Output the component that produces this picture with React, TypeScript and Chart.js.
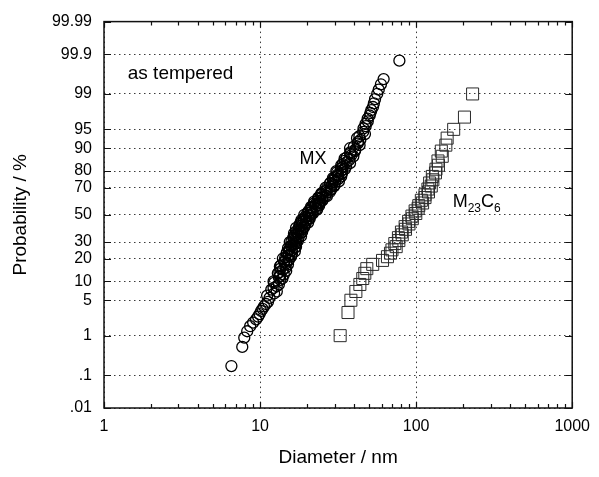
import React, { useEffect, useRef } from 'react';
import { Chart, registerables } from 'chart.js';

Chart.register(...registerables);

// ---- data (diameter in nm, cumulative probability in %) ----
const mxDiameter = [
  6.55, 7.69, 7.92, 8.27, 8.64, 9.03, 9.43, 9.71, 9.93, 10.15, 10.37, 10.6, 10.91, 11.24,
  11.5, 12.3, 11.8, 12.8, 12.3, 13.5, 13.2, 14.2, 13.3, 14.0, 14.6, 13.6, 14.7, 14.3, 15.3,
  14.5, 15.3, 16.0, 14.9, 16.0, 15.5, 16.8, 15.7, 16.5, 17.1, 15.9, 17.1, 16.5, 17.7, 16.7,
  17.5, 18.2, 17.0, 18.2, 17.7, 19.1, 17.8, 18.8, 19.6, 18.3, 19.7, 19.1, 20.6, 19.4, 20.5,
  21.4, 20.1, 21.6, 21.1, 22.9, 21.4, 22.7, 23.6, 22.1, 23.9, 23.3, 25.1, 23.7, 25.1, 26.3,
  24.7, 26.7, 26.2, 28.5, 26.8, 28.5, 29.8, 28.0, 30.2, 29.5, 31.8, 30.1, 31.8, 33.3, 31.2,
  33.6, 32.9, 35.6, 33.8, 35.9, 37.3, 35.9, 38.5, 37.8, 40.7, 39.9, 42.3, 43.9, 43.3, 45.8,
  46.0, 47.5, 47.4, 49.0, 48.9, 50.4, 50.9, 51.6, 52.9, 53.6, 54.5, 56.3, 57.6, 59.5, 61.9, 78.1,
  11.1, 12.8, 12.2, 13.2, 12.2, 13.9, 13.4, 13.0, 14.7, 13.5, 13.4, 15.1, 14.3, 15.2, 14.0,
  15.8, 15.3, 14.8, 16.7, 15.3, 15.1, 17.0, 16.1, 17.0, 15.5, 17.5, 16.8, 16.3, 18.3, 16.7,
  16.5, 18.6, 17.6, 18.6, 17.0, 19.2, 18.5, 18.0, 20.3, 18.6, 18.4, 20.8, 19.7, 21.0, 19.2,
  21.8, 21.1, 20.5, 23.2, 21.3, 21.2, 23.9, 22.7, 24.2, 22.2, 25.1, 24.3, 23.6, 26.8, 24.7,
  24.7, 28.0, 26.7, 28.5, 26.3, 29.9, 29.0, 28.2, 32.0, 29.4, 29.3, 33.1, 31.4, 33.5, 30.8,
  34.9, 33.9, 33.1, 37.7, 34.8, 34.8, 39.6, 37.8, 40.6, 37.7, 43.4, 42.5, 41.8, 47.0,
];
const mxProbability = [
  0.18, 0.55, 0.9, 1.25, 1.6, 1.9, 2.2, 2.5, 2.8, 3.2, 3.5, 3.9, 4.3, 4.7,
  5.5, 6.5, 7.5, 8.5, 9.5, 10.5, 11.5, 12.5, 13.5, 14.5, 15.5, 16.5, 17.5, 18.5, 19.5,
  20.5, 21.5, 22.5, 23.5, 24.5, 25.5, 26.5, 27.5, 28.5, 29.5, 30.5, 31.5, 32.5, 33.5, 34.5,
  35.5, 36.5, 37.5, 38.5, 39.5, 40.5, 41.5, 42.5, 43.5, 44.5, 45.5, 46.5, 47.5, 48.5, 49.5,
  50.5, 51.5, 52.5, 53.5, 54.5, 55.5, 56.5, 57.5, 58.5, 59.5, 60.5, 61.5, 62.5, 63.5, 64.5,
  65.5, 66.5, 67.5, 68.5, 69.5, 70.5, 71.5, 72.5, 73.5, 74.5, 75.5, 76.5, 77.5, 78.5, 79.5,
  80.5, 81.5, 82.5, 83.5, 84.5, 85.5, 86.5, 87.5, 88.5, 89.5, 90.5, 91.5, 92.5, 93.5, 94.5,
  95.2, 95.6, 96.0, 96.4, 96.8, 97.2, 97.5, 97.8, 98.1, 98.4, 98.7, 99.0, 99.2, 99.4, 99.55, 99.85,
  6, 7, 8, 9, 10, 11, 12, 13, 14, 15, 16, 17, 18, 19, 20,
  21, 22, 23, 24, 25, 26, 27, 28, 29, 30, 31, 32, 33, 34, 35,
  36, 37, 38, 39, 40, 41, 42, 43, 44, 45, 46, 47, 48, 49, 50,
  51, 52, 53, 54, 55, 56, 57, 58, 59, 60, 61, 62, 63, 64, 65,
  66, 67, 68, 69, 70, 71, 72, 73, 74, 75, 76, 77, 78, 79, 80,
  81, 82, 83, 84, 85, 86, 87, 88, 89, 90, 91, 92, 93, 94,
];

const m23Diameter = [
  32.6, 36.6, 38.2, 41.1, 43.6, 45.5, 46.9, 48.3, 52.7, 60.9,
  65.5, 68.5, 70.0, 74.5, 73.0, 77.5, 77.0, 81.5, 80.5, 85.5,
  85.0, 90.0, 89.5, 94.5, 94.0, 99.5, 98.5, 103, 104, 110,
  108, 114, 114, 120, 119, 125, 122, 128, 127, 133,
  134, 139, 138, 147, 145, 155, 158, 174, 204, 230,
];
const m23Probability = [
  1, 3, 5, 7, 9, 11, 13, 15, 17, 19,
  21, 23, 25, 27, 29, 31, 33, 35, 37, 39,
  41, 43, 45, 47, 49, 51, 53, 55, 57, 59,
  61, 63, 65, 67, 69, 71, 73, 75, 77, 79,
  81, 83, 85, 87, 89, 91, 93, 95, 97, 99,
];

const xTickValues = [1, 10, 100, 1000];
const xTickLabels = ['1', '10', '100', '1000'];
const xMinorBases = [1, 10, 100];
const xMinorMultipliers = [2, 3, 4, 5, 6, 7, 8, 9];
const yTickValues = [0.01, 0.1, 1, 5, 10, 20, 30, 50, 70, 80, 90, 95, 99, 99.9, 99.99];
const yTickLabels = ['.01', '.1', '1', '5', '10', '20', '30', '50', '70', '80', '90', '95', '99', '99.9', '99.99'];

const FONT = "'Liberation Sans', Arial, Helvetica, sans-serif";

// inverse of the standard normal CDF (probability paper transform), input in %
function probit(pPercent: number): number {
  const p = pPercent / 100;
  const a = [-3.969683028665376e1, 2.209460984245205e2, -2.759285104469687e2, 1.38357751867269e2, -3.066479806614716e1, 2.506628277459239];
  const b = [-5.447609879822406e1, 1.615858368580409e2, -1.556989798598866e2, 6.680131188771972e1, -1.328068155288572e1];
  const c = [-7.784894002430293e-3, -3.223964580411365e-1, -2.400758277161838, -2.549732539343734, 4.374664141464968, 2.938163982698783];
  const d = [7.784695709041462e-3, 3.224671290700398e-1, 2.445134137142996, 3.754408661907416];
  const plow = 0.02425;
  const phigh = 1 - plow;
  if (p < plow) {
    const q = Math.sqrt(-2 * Math.log(p));
    return (((((c[0] * q + c[1]) * q + c[2]) * q + c[3]) * q + c[4]) * q + c[5]) /
      ((((d[0] * q + d[1]) * q + d[2]) * q + d[3]) * q + 1);
  }
  if (p <= phigh) {
    const q = p - 0.5;
    const r = q * q;
    return (((((a[0] * r + a[1]) * r + a[2]) * r + a[3]) * r + a[4]) * r + a[5]) * q /
      (((((b[0] * r + b[1]) * r + b[2]) * r + b[3]) * r + b[4]) * r + 1);
  }
  const q = Math.sqrt(-2 * Math.log(1 - p));
  return -(((((c[0] * q + c[1]) * q + c[2]) * q + c[3]) * q + c[4]) * q + c[5]) /
    ((((d[0] * q + d[1]) * q + d[2]) * q + d[3]) * q + 1);
}

// annotation anchors (diameter, probability %)
const noteTempered = { d: 1.42, p: 99.55 };
const noteMX = { d: 17.9, p: 83.6 };
const noteM23 = { d: 171.5, p: 56.0 };

const framePlugin = {
  id: 'frame',
  afterDatasetsDraw(chart: any) {
    const { ctx, chartArea } = chart;
    const { left, right, top, bottom } = chartArea;
    const xs = chart.scales.x;
    const ys = chart.scales.y;
    ctx.save();
    ctx.strokeStyle = '#111';
    ctx.lineWidth = 1.2;
    ctx.beginPath();
    xTickValues.forEach((v) => {
      const px = Math.round(xs.getPixelForValue(v)) + 0.5;
      ctx.moveTo(px, bottom); ctx.lineTo(px, bottom - 6);
      ctx.moveTo(px, top); ctx.lineTo(px, top + 6);
    });
    xMinorBases.forEach((b) => {
      xMinorMultipliers.forEach((m) => {
        const px = Math.round(xs.getPixelForValue(b * m)) + 0.5;
        ctx.moveTo(px, bottom); ctx.lineTo(px, bottom - 4);
        ctx.moveTo(px, top); ctx.lineTo(px, top + 4);
      });
    });
    yTickValues.forEach((v) => {
      const py = Math.round(ys.getPixelForValue(probit(v))) + 0.5;
      ctx.moveTo(left, py); ctx.lineTo(left + 7, py);
      ctx.moveTo(right, py); ctx.lineTo(right - 7, py);
    });
    ctx.stroke();
    ctx.lineWidth = 1.5;
    ctx.strokeRect(left, top, right - left, bottom - top);

    ctx.fillStyle = '#000';
    ctx.textBaseline = 'alphabetic';
    ctx.textAlign = 'left';
    ctx.font = `19px ${FONT}`;
    ctx.fillText('as tempered', xs.getPixelForValue(noteTempered.d), ys.getPixelForValue(probit(noteTempered.p)));
    ctx.font = `18px ${FONT}`;
    ctx.fillText('MX', xs.getPixelForValue(noteMX.d), ys.getPixelForValue(probit(noteMX.p)));
    let mx = xs.getPixelForValue(noteM23.d);
    const my = ys.getPixelForValue(probit(noteM23.p));
    const parts: [string, boolean][] = [['M', false], ['23', true], ['C', false], ['6', true]];
    parts.forEach(([t, sub]) => {
      ctx.font = sub ? `12px ${FONT}` : `18px ${FONT}`;
      ctx.fillText(t, mx, sub ? my + 5 : my);
      mx += ctx.measureText(t).width;
    });
    ctx.restore();
  },
};

export default function App() {
  const canvasRef = useRef<HTMLCanvasElement | null>(null);

  useEffect(() => {
    const canvas = canvasRef.current;
    if (!canvas) return;
    const chart = new Chart(canvas, {
      type: 'scatter',
      data: {
        datasets: [
          {
            label: 'MX',
            data: mxDiameter.map((d, i) => ({ x: d, y: probit(mxProbability[i]) })),
            pointStyle: 'circle',
            pointRadius: 5.5,
            pointBorderWidth: 1.3,
            borderColor: '#000',
            pointBorderColor: '#000',
            backgroundColor: 'rgba(0,0,0,0)',
            pointBackgroundColor: 'rgba(0,0,0,0)',
          },
          {
            label: 'M23C6',
            data: m23Diameter.map((d, i) => ({ x: d, y: probit(m23Probability[i]) })),
            pointStyle: 'rect',
            pointRadius: 8.5,
            pointBorderWidth: 1,
            borderColor: '#2a2a2a',
            pointBorderColor: '#2a2a2a',
            backgroundColor: 'rgba(0,0,0,0)',
            pointBackgroundColor: 'rgba(0,0,0,0)',
          },
        ],
      },
      options: {
        animation: false,
        responsive: false,
        events: [],
        layout: { padding: { left: 0, right: 21, top: 13, bottom: 0 } },
        plugins: {
          legend: { display: false },
          tooltip: { enabled: false },
        },
        scales: {
          x: {
            type: 'logarithmic',
            position: 'bottom',
            min: 1,
            max: 1000,
            afterBuildTicks: (scale: any) => {
              scale.ticks = xTickValues.map((v) => ({ value: v }));
            },
            afterFit: (scale: any) => {
              scale.height = 69;
            },
            ticks: {
              autoSkip: false,
              maxRotation: 0,
              padding: 9,
              color: '#000',
              font: { family: FONT, size: 16 },
              callback: (_v: any, i: number) => xTickLabels[i],
            },
            grid: {
              drawTicks: false,
              color: '#3a3a3a',
              lineWidth: 1,
            },
            border: { display: false, dash: [1.5, 3.5] },
            title: {
              display: true,
              text: 'Diameter / nm',
              color: '#000',
              font: { family: FONT, size: 19 },
              padding: { top: 0, bottom: 8 },
            },
          },
          y: {
            type: 'linear',
            position: 'left',
            min: probit(0.01),
            max: probit(99.99),
            afterBuildTicks: (scale: any) => {
              scale.ticks = yTickValues.map((v) => ({ value: probit(v) }));
            },
            afterFit: (scale: any) => {
              scale.width = 104;
            },
            ticks: {
              autoSkip: false,
              padding: 12,
              color: '#000',
              font: { family: FONT, size: 16 },
              callback: (_v: any, i: number) => yTickLabels[i],
            },
            grid: {
              drawTicks: false,
              color: '#3a3a3a',
              lineWidth: 1,
            },
            border: { display: false, dash: [1.5, 3.5] },
            title: {
              display: true,
              text: 'Probability / %',
              color: '#000',
              font: { family: FONT, size: 19 },
              padding: { top: 9, bottom: 0 },
            },
          },
        },
      },
      plugins: [framePlugin],
    } as any);
    return () => chart.destroy();
  }, []);

  return (
    <div style={{ position: 'absolute', left: 0, top: 0, width: 599, height: 477, background: '#fff' }}>
      <canvas ref={canvasRef} width={599} height={477} style={{ display: 'block' }} />
    </div>
  );
}
